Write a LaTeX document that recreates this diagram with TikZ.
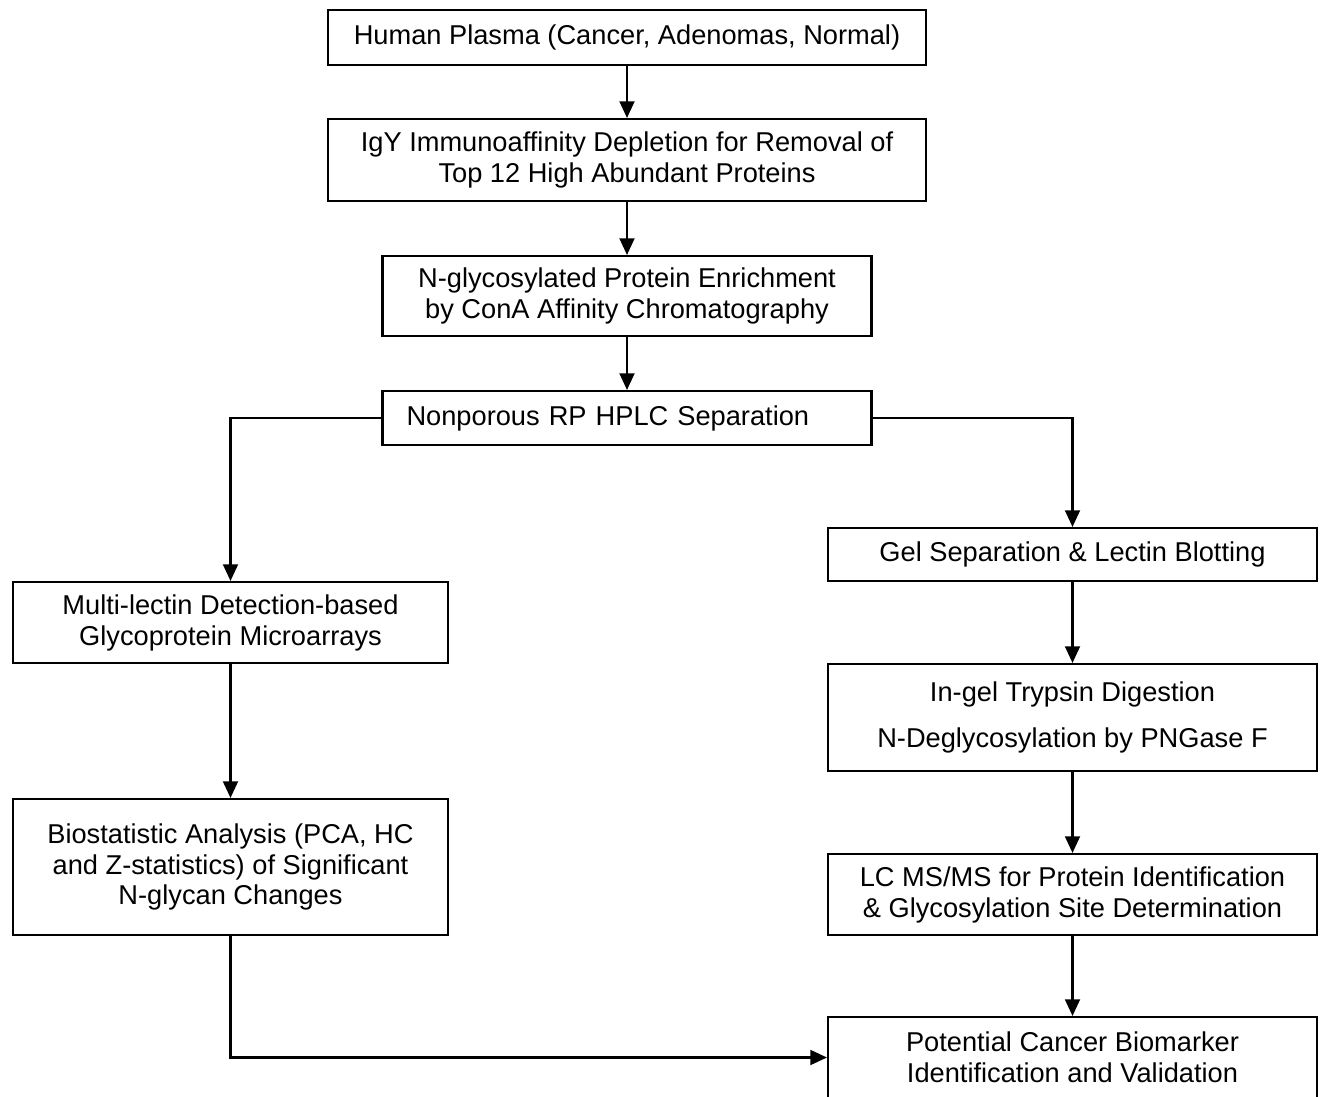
\documentclass[tikz,border=0pt]{standalone}
\usepackage{fontspec}
\setmainfont{Liberation Sans}
\usetikzlibrary{arrows.meta,positioning,calc}

\tikzset{
  stepbox/.style={draw,line width=1.2pt,align=center,inner sep=0pt,
    font=\fontsize{15.5}{17.6}\selectfont},
  flow/.style={-{Triangle[width=8.5pt,length=9.5pt]},line width=1.2pt},
  line/.style={line width=1.2pt}
}

\begin{document}
\begin{tikzpicture}[x=0.02cm,y=-0.02cm]
        \useasboundingbox (0,0) rectangle (1326,1096);
        % main column
        \node[stepbox,minimum width=11.96cm,minimum height=1.10cm] (plasma) at (627,37.5) {Human Plasma (Cancer, Adenomas, Normal)};
        \node[stepbox,minimum width=11.96cm,minimum height=1.64cm] (depl) at (627,160) {IgY Immunoaffinity Depletion for Removal of\\Top 12 High Abundant Proteins};
        \node[stepbox,minimum width=9.78cm,minimum height=1.60cm] (cona) at (627,296) {N-glycosylated Protein Enrichment\\by ConA Affinity Chromatography};
        \node[stepbox,minimum width=9.78cm,minimum height=1.08cm,text width=8.82cm,align=left,inner xsep=0.48cm] (hplc) at (627,418) {Nonporous RP HPLC Separation};
        % left branch
        \node[stepbox,minimum width=8.70cm,minimum height=1.62cm] (lectin) at (230.5,622.5) {Multi-lectin Detection-based\\Glycoprotein Microarrays};
        \node[stepbox,minimum width=8.70cm,minimum height=2.72cm] (stats) at (230.5,867) {Biostatistic Analysis (PCA, HC\\and Z-statistics) of Significant\\N-glycan Changes};
        % right branch
        \node[stepbox,minimum width=9.78cm,minimum height=1.06cm] (gel) at (1072.5,554.5) {Gel Separation \& Lectin Blotting};
        \node[stepbox,minimum width=9.78cm,minimum height=2.14cm] (digest) at (1072.5,717.5) {In-gel Trypsin Digestion\\[9pt]N-Deglycosylation by PNGase F};
        \node[stepbox,minimum width=9.78cm,minimum height=1.62cm] (lcms) at (1072.5,894.5) {LC MS/MS for Protein Identification\\\& Glycosylation Site Determination};
        \node[stepbox,minimum width=9.78cm,minimum height=1.62cm] (marker) at (1072.5,1057.5) {Potential Cancer Biomarker\\Identification and Validation};

        \draw[flow] (plasma) -- (depl);
        \draw[flow] (depl) -- (cona);
        \draw[flow] (cona) -- (hplc);
        \draw[flow] (hplc.west) -| (lectin.north);
        \draw[flow] (hplc.east) -| (gel.north);
        \draw[flow] (lectin) -- (stats);
        \draw[flow] (gel) -- (digest);
        \draw[flow] (digest) -- (lcms);
        \draw[flow] (lcms) -- (marker);
        \draw[flow] (stats.south) |- (marker.west);
      \end{tikzpicture}
\end{document}
